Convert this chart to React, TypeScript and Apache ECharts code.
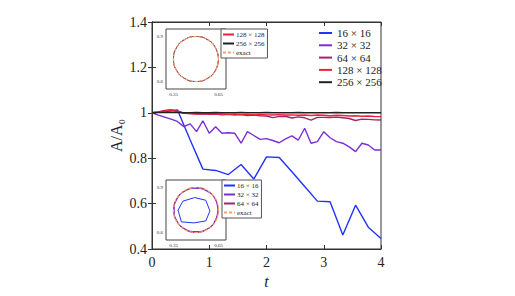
import React, { useEffect, useRef } from "react";
import * as echarts from "echarts";

// ---- main plot data ----
const t16 = [0, 0.222, 0.444, 0.667, 0.889, 1.111, 1.333, 1.556, 1.778, 2, 2.222, 2.444, 2.667, 2.889, 3.111, 3.333, 3.556, 3.778, 4];
const a16 = [1.0, 1.004, 1.013, 0.88, 0.752, 0.746, 0.728, 0.772, 0.708, 0.806, 0.803, 0.74, 0.675, 0.611, 0.608, 0.462, 0.593, 0.496, 0.446];

const tFine = [0, 0.111, 0.222, 0.333, 0.444, 0.556, 0.667, 0.778, 0.889, 1, 1.111, 1.222, 1.333, 1.444, 1.556, 1.667, 1.778, 1.889, 2, 2.111, 2.222, 2.333, 2.444, 2.556, 2.667, 2.778, 2.889, 3, 3.111, 3.222, 3.333, 3.444, 3.556, 3.667, 3.778, 3.889, 4];
const a32 = [1.0, 0.99, 0.981, 0.972, 0.962, 0.939, 0.951, 0.917, 0.965, 0.91, 0.939, 0.91, 0.912, 0.91, 0.866, 0.917, 0.9, 0.883, 0.886, 0.878, 0.868, 0.885, 0.898, 0.88, 0.932, 0.866, 0.873, 0.917, 0.89, 0.873, 0.866, 0.85, 0.829, 0.866, 0.858, 0.836, 0.836];
const a64 = [1.0, 1.004, 1.01, 1.014, 1.008, 0.998, 0.997, 0.995, 0.996, 0.993, 0.995, 0.991, 0.993, 0.99, 0.992, 0.988, 0.99, 0.987, 0.986, 0.979, 0.984, 0.985, 0.977, 0.982, 0.978, 0.968, 0.98, 0.98, 0.979, 0.981, 0.978, 0.975, 0.966, 0.972, 0.971, 0.969, 0.968];
const a128 = [1.0, 1.003, 1.008, 1.01, 1.006, 0.999, 0.997, 0.996, 0.995, 0.997, 0.994, 0.995, 0.993, 0.994, 0.992, 0.993, 0.991, 0.993, 0.991, 0.99, 0.992, 0.99, 0.991, 0.989, 0.99, 0.988, 0.99, 0.989, 0.987, 0.989, 0.988, 0.986, 0.987, 0.985, 0.986, 0.984, 0.983];
const a256 = [1.0, 1.001, 1.002, 1.001, 1.001, 1.0, 1.0, 1.001, 1.0, 1.0, 1.001, 1.0, 1.0, 1.0, 1.001, 1.0, 1.0, 1.0, 1.001, 1.0, 1.0, 1.0, 1.0, 1.001, 1.0, 1.0, 1.0, 1.0, 1.0, 1.001, 1.0, 1.0, 1.0, 1.0, 1.0, 1.0, 1.0];

const names = ["16 × 16", "32 × 32", "64 × 64", "128 × 128", "256 × 256"];
const colors = ["#2233ff", "#7a2fd4", "#a3246b", "#f0203c", "#222222"];
const yTicks = ["0.4", "0.6", "0.8", "1", "1.2", "1.4"];

// ---- inset interface shapes (x, y) ----
const exactX = [0.65, 0.645, 0.63, 0.606, 0.575, 0.539, 0.5, 0.461, 0.425, 0.394, 0.37, 0.355, 0.35, 0.355, 0.37, 0.394, 0.425, 0.461, 0.5, 0.539, 0.575, 0.606, 0.63, 0.645, 0.65];
const exactY = [0.75, 0.789, 0.825, 0.856, 0.88, 0.895, 0.9, 0.895, 0.88, 0.856, 0.825, 0.789, 0.75, 0.711, 0.675, 0.644, 0.62, 0.605, 0.6, 0.605, 0.62, 0.644, 0.675, 0.711, 0.75];

const s128X = [0.65, 0.63, 0.575, 0.5, 0.425, 0.37, 0.35, 0.37, 0.425, 0.5, 0.575, 0.63, 0.65];
const s128Y = [0.75, 0.825, 0.88, 0.9, 0.88, 0.825, 0.75, 0.675, 0.62, 0.6, 0.62, 0.675, 0.75];
const s256X = [0.65, 0.63, 0.575, 0.5, 0.425, 0.37, 0.35, 0.37, 0.425, 0.5, 0.575, 0.63, 0.65];
const s256Y = [0.75, 0.825, 0.88, 0.9, 0.88, 0.825, 0.75, 0.675, 0.62, 0.6, 0.62, 0.675, 0.75];

const s16X = [0.38, 0.413, 0.491, 0.565, 0.593, 0.565, 0.487, 0.403, 0.38];
const s16Y = [0.749, 0.809, 0.833, 0.815, 0.744, 0.677, 0.664, 0.671, 0.749];
const s32X = [0.645, 0.627, 0.572, 0.5, 0.428, 0.374, 0.355, 0.373, 0.426, 0.5, 0.574, 0.626, 0.645];
const s32Y = [0.75, 0.822, 0.875, 0.894, 0.876, 0.823, 0.75, 0.678, 0.625, 0.606, 0.624, 0.677, 0.75];
const s64X = [0.649, 0.629, 0.574, 0.5, 0.426, 0.371, 0.351, 0.371, 0.426, 0.5, 0.574, 0.629, 0.649];
const s64Y = [0.75, 0.824, 0.879, 0.899, 0.879, 0.824, 0.75, 0.676, 0.621, 0.601, 0.621, 0.676, 0.75];

const FONT = "'Liberation Serif', 'DejaVu Serif', serif";
const zip = (xs: number[], ys: number[]) => xs.map((x, i) => [x, ys[i]]);

export default function App() {
  const ref = useRef<HTMLDivElement>(null);
  useEffect(() => {
    if (!ref.current) return;
    const chart = echarts.init(ref.current, null, { renderer: "svg" });
    const mainData = [zip(t16, a16), zip(tFine, a32), zip(tFine, a64), zip(tFine, a128), zip(tFine, a256)];
    const mainSeries = names.map((n, i) => ({
      name: n,
      type: "line",
      xAxisIndex: 0,
      yAxisIndex: 0,
      data: mainData[i],
      symbol: "none",
      color: colors[i],
      lineStyle: { width: 1.4, color: colors[i] },
      z: 3 + i,
    }));
    const insetLine = (name: string, color: string, data: number[][], idx: number, smooth: boolean, dashed = false) => ({
      name,
      type: "line",
      xAxisIndex: idx,
      yAxisIndex: idx,
      data,
      symbol: "none",
      smooth: smooth ? 0.5 : false,
      color,
      lineStyle: { width: dashed ? 1.2 : 1, color, type: dashed ? [3, 2] : "solid" },
      z: 5,
    });
    const insetAxisCommon = {
      axisLine: { show: false },
      axisTick: { show: true, inside: true, length: 2, lineStyle: { color: "#444", width: 0.6 } },
      axisLabel: { fontFamily: FONT, fontSize: 5, color: "#333", margin: 3 },
      splitLine: { show: false },
    };
    const mainAxisLine = { show: true, lineStyle: { color: "#333", width: 1 } };
    const mainTick = { show: true, inside: true, length: 4, lineStyle: { color: "#333", width: 1 } };
    const legendCommon = {
      orient: "vertical",
      itemHeight: 2,
      icon: undefined,
      itemStyle: { opacity: 0 },
      selectedMode: false,
    };
    chart.setOption({
      animation: false,
      backgroundColor: "#fff",
      grid: [
        { left: 152, top: 22, width: 229, height: 227, show: true, borderColor: "#333", borderWidth: 1, backgroundColor: "#fff" },
        { left: 166, top: 29, width: 60, height: 60, show: true, borderColor: "#444", borderWidth: 1, backgroundColor: "#fff", z: 4 },
        { left: 166, top: 180, width: 60, height: 60, show: true, borderColor: "#444", borderWidth: 1, backgroundColor: "#fff", z: 4 },
      ],
      xAxis: [
        {
          type: "value", gridIndex: 0, min: 0, max: 4, interval: 1, position: "bottom",
          axisLine: mainAxisLine, axisTick: mainTick, splitLine: { show: false },
          axisLabel: { fontFamily: FONT, fontSize: 14, color: "#222", margin: 6 },
          name: "t", nameLocation: "middle", nameGap: 23,
          nameTextStyle: { fontFamily: FONT, fontSize: 16, fontStyle: "italic", color: "#222" },
        },
        {
          type: "value", gridIndex: 0, min: 0, max: 4, interval: 1, position: "top",
          axisLine: mainAxisLine, axisTick: mainTick, splitLine: { show: false }, axisLabel: { show: false },
        },
        { type: "value", gridIndex: 1, min: 0.3, max: 0.7, ...insetAxisCommon,
          axisTick: { ...insetAxisCommon.axisTick, customValues: [0.35, 0.65] },
          axisLabel: { ...insetAxisCommon.axisLabel, customValues: [0.35, 0.65], formatter: (v: number) => v.toFixed(2) } },
        { type: "value", gridIndex: 2, min: 0.3, max: 0.7, ...insetAxisCommon,
          axisTick: { ...insetAxisCommon.axisTick, customValues: [0.35, 0.65] },
          axisLabel: { ...insetAxisCommon.axisLabel, customValues: [0.35, 0.65], formatter: (v: number) => v.toFixed(2) } },
      ],
      yAxis: [
        {
          type: "value", gridIndex: 0, min: 0.4, max: 1.4, interval: 0.2, position: "left",
          axisLine: mainAxisLine, axisTick: mainTick, splitLine: { show: false },
          axisLabel: {
            fontFamily: FONT, fontSize: 14, color: "#222", margin: 5,
            formatter: (v: number) => yTicks[Math.round((v - 0.4) / 0.2)] ?? "",
          },
          name: "A/A₀", nameLocation: "middle", nameGap: 28,
          nameTextStyle: { fontFamily: FONT, fontSize: 16, color: "#222" },
        },
        {
          type: "value", gridIndex: 0, min: 0.4, max: 1.4, interval: 0.2, position: "right",
          axisLine: mainAxisLine, axisTick: mainTick, splitLine: { show: false }, axisLabel: { show: false },
        },
        { type: "value", gridIndex: 1, min: 0.55, max: 0.95, ...insetAxisCommon,
          axisTick: { ...insetAxisCommon.axisTick, customValues: [0.6, 0.9] },
          axisLabel: { ...insetAxisCommon.axisLabel, customValues: [0.6, 0.9], formatter: (v: number) => v.toFixed(1) } },
        { type: "value", gridIndex: 2, min: 0.55, max: 0.95, ...insetAxisCommon,
          axisTick: { ...insetAxisCommon.axisTick, customValues: [0.6, 0.9] },
          axisLabel: { ...insetAxisCommon.axisLabel, customValues: [0.6, 0.9], formatter: (v: number) => v.toFixed(1) } },
      ],
      legend: [
        {
          ...legendCommon,
          data: names,
          left: 318, top: 27,
          itemWidth: 13, itemGap: 0.3,
          padding: 0,
          textStyle: { fontFamily: FONT, fontSize: 11, lineHeight: 12, color: "#222" },
        },
        {
          ...legendCommon,
          data: ["128 × 128", "256 × 256", "exact"],
          left: 221, top: 29,
          itemWidth: 11, itemGap: 2,
          padding: [2, 3, 2, 1],
          backgroundColor: "#fff", borderColor: "#555", borderWidth: 1,
          textStyle: { fontFamily: FONT, fontSize: 7, lineHeight: 7, color: "#222", padding: [0, 0, 0, -3] },
        },
        {
          ...legendCommon,
          data: ["16 × 16", "32 × 32", "64 × 64", "exact"],
          left: 222, top: 180,
          itemWidth: 11, itemGap: 2,
          padding: [2, 3, 2, 1],
          backgroundColor: "#fff", borderColor: "#555", borderWidth: 1,
          textStyle: { fontFamily: FONT, fontSize: 7, lineHeight: 7, color: "#222", padding: [0, 0, 0, -3] },
        },
      ],
      series: [
        ...mainSeries,
        insetLine("128 × 128", colors[3], zip(s128X, s128Y), 2, true),
        insetLine("256 × 256", "#666666", zip(s256X, s256Y), 2, true),
        insetLine("exact", "#f5a070", zip(exactX, exactY), 2, true, true),
        insetLine("16 × 16", colors[0], zip(s16X, s16Y), 3, false),
        insetLine("32 × 32", colors[1], zip(s32X, s32Y), 3, true),
        insetLine("64 × 64", colors[2], zip(s64X, s64Y), 3, true),
        insetLine("exact", "#f5a070", zip(exactX, exactY), 3, true, true),
      ],
    });
    return () => chart.dispose();
  }, []);
  return <div ref={ref} style={{ position: "absolute", left: 0, top: 0, width: 515, height: 296 }} />;
}
